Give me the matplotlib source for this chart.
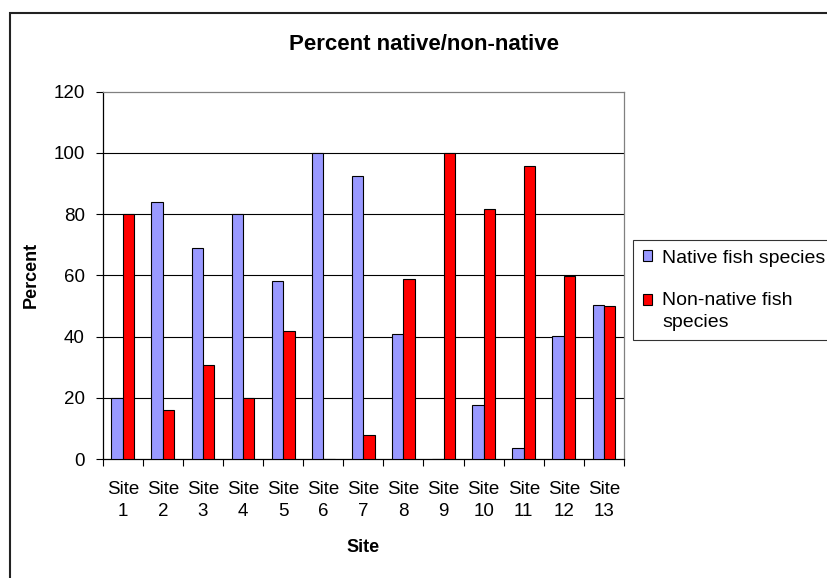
#!/usr/bin/env python3
import numpy as np
import matplotlib
matplotlib.use('Agg')
import matplotlib.pyplot as plt
import matplotlib.patches as mpatches
from matplotlib.legend_handler import HandlerPatch

sites = ['Site\n1', 'Site\n2', 'Site\n3', 'Site\n4', 'Site\n5', 'Site\n6', 'Site\n7',
         'Site\n8', 'Site\n9', 'Site\n10', 'Site\n11', 'Site\n12', 'Site\n13']
native = [20, 84, 69, 80, 58.3, 100, 92.3, 40.8, 0, 17.8, 3.7, 40.1, 50.4]
nonNative = [80.2, 16, 30.8, 20, 41.7, 0, 7.7, 58.8, 100, 81.8, 95.8, 59.9, 50]
seriesNames = ['Native fish species', 'Non-native fish\nspecies']
yTicks = [0, 20, 40, 60, 80, 100, 120]

W, H = 827, 578
blue = '#9999FF'
red = '#FF0000'


def firstLineSquare(legend, orig_handle, xdescent, ydescent, width, height, fontsize):
    # Excel puts the key next to the first line of a wrapped entry
    return mpatches.Rectangle((-xdescent, -ydescent + 0.6 * fontsize), width, height)


plt.rcParams.update({
    'font.family': ['Liberation Sans', 'DejaVu Sans'],
    'font.size': 13,
})

fig = plt.figure(figsize=(W / 100, H / 100), dpi=100)
ax = fig.add_axes([102.7 / W, 1 - 459 / H, (624 - 102.7) / W, (459 - 91.7) / H])

# chart area border (runs off the right / bottom edge like the original)
fig.patches.append(mpatches.Rectangle((10 / W, -0.1), 2.0, 1 - 13 / H + 0.1,
                                      transform=fig.transFigure, fill=False,
                                      edgecolor='#222222', linewidth=1.5))

x = np.arange(len(sites))
w = 0.285
ax.bar(x - w / 2, native, w, color=blue, edgecolor='black', linewidth=0.8, zorder=3)
ax.bar(x + w / 2, nonNative, w, color=red, edgecolor='black', linewidth=0.8, zorder=3)

ax.set_xlim(-0.5, len(sites) - 0.5)
ax.set_ylim(0, 120)
ax.set_yticks(yTicks)
for yv in yTicks[1:-1]:
    ax.axhline(yv, color='black', linewidth=0.8, zorder=1)

ax.set_xticks(x)
ax.set_xticklabels(sites, linespacing=1.4)
ax.set_xticks(np.arange(-0.5, len(sites)), minor=True)
ax.tick_params(axis='x', which='major', length=0, pad=16, labelsize=13.5)
ax.tick_params(axis='x', which='minor', length=5, width=0.8, direction='out')
ax.tick_params(axis='y', length=5, width=0.8, direction='out', pad=8, labelsize=13.5)

for side in ['top', 'right']:
    ax.spines[side].set_color('#808080')
for side in ['left', 'bottom']:
    ax.spines[side].set_color('black')
for s in ax.spines.values():
    s.set_linewidth(0.9)

ax.set_xlabel('Site', fontweight='bold', fontsize=13, va='center')
ax.xaxis.set_label_coords(0.5, -(548 - 459) / (459 - 91.7))
ax.set_ylabel('Percent', fontweight='bold', fontsize=13, va='center')
ax.yaxis.set_label_coords(-(102.7 - 31) / (624 - 102.7), 0.5)

fig.suptitle('Percent native/non-native', x=424 / W, y=1 - 45 / H, va='center',
             fontweight='bold', fontsize=16)

nativeKey = mpatches.Patch(facecolor=blue, edgecolor='black', linewidth=0.8)
nonNativeKey = mpatches.Patch(facecolor=red, edgecolor='black', linewidth=0.8)
leg = ax.legend([nativeKey, nonNativeKey], seriesNames,
                handler_map={nonNativeKey: HandlerPatch(patch_func=firstLineSquare)},
                loc='upper left', bbox_to_anchor=(633 / W, 1 - 240 / H),
                bbox_transform=fig.transFigure, fontsize=14, frameon=True,
                fancybox=False, edgecolor='black', borderaxespad=0,
                handlelength=0.5, handleheight=0.5, handletextpad=0.5,
                borderpad=0.5, labelspacing=1.3)
leg.get_frame().set_linewidth(0.8)
for t in leg.get_texts():
    t.set_linespacing(1.35)

fig.savefig('out.png', dpi=100)
